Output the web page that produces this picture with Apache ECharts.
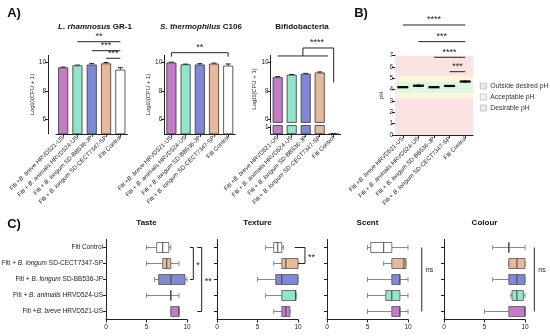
<!DOCTYPE html>
<html><head><meta charset="utf-8">
<script src="https://cdn.jsdelivr.net/npm/echarts@6/dist/echarts.min.js"></script>
<style>html,body{margin:0;padding:0;background:#fff}#c{width:550px;height:336px}</style>
</head><body><div id="c"></div>
<script>
// ---------- data ----------
const strains = ["Fiti +B. breve HRVD521-US", "Fiti + B. animalis HRVD524-US", "Fiti + B. longum SD-BB536-JP", "Fiti + B. longum SD-CECT7347-SP", "Fiti Control"];
const rhamnosus = [9.66, 9.80, 9.86, 9.94, 9.50];
const rhamnosusErr = [0.02, 0.02, 0.08, 0.06, 0.14];
const thermophilus = [10.0, 9.87, 9.86, 9.92, 9.78];
const thermophilusErr = [0.03, 0.02, 0.06, 0.04, 0.12];
const bifido = [8.97, 9.14, 9.21, 9.30, 0.0];
const bifidoErr = [0.04, 0.02, 0.03, 0.04, 0.05];
const ph = [4.22, 4.35, 4.22, 4.33, 4.72];
const phErr = [0.03, 0.05, 0.03, 0.04, 0.04];
const zoneNames = ["Outside desired pH", "Acceptable pH", "Desirable pH"];
const zoneLow = [0, 3.25, 3.75];
const zoneHigh = [7, 5.2, 4.7];
const logTicks = [6, 8, 10];
const lowTicks = [0, 1];
// box plots: [min, q1, median, q3, max], same order as strains
const taste = [[8, 8, 9, 9, 9], [5, 8, 8, 8, 9], [6, 6.5, 8, 9.75, 10], [5, 7, 7.5, 8, 9], [5, 6.25, 7, 7.75, 8]];
const texture = [[7, 8, 8.5, 9, 9], [6, 8, 9.7, 9.75, 9.75], [5, 7.25, 8, 10, 10], [7, 8, 8.5, 10, 10], [6, 7, 7.5, 8, 8.2]];
const scent = [[5, 8, 9, 9, 10], [5, 7.25, 8, 9, 10], [5, 8, 9, 9, 10], [7, 8, 9.5, 9.75, 9.75], [5, 5.4, 7, 8, 10]];
const colour = [[5, 8, 10, 10, 10], [8.25, 8.4, 9, 9.8, 10], [6, 8, 9, 10, 10], [8, 8, 9, 10, 10], [6, 8, 8, 8, 10]];
// significance annotations: polyline points [category, value] (or [value, category] for C), label, label anchor
const sigA1 = [
  {pts: [[1, 11.46], [4, 11.46]], text: '**', at: [2.5, 11.46]},
  {pts: [[2, 10.83], [4, 10.83]], text: '***', at: [3, 10.83]},
  {pts: [[3, 10.3], [4, 10.3]], text: '***', at: [3.5, 10.3]}
];
const sigA2 = [
  {pts: [[0, 10.41], [0, 10.69], [4, 10.69], [4, 10.41]], text: '**', at: [2, 10.69]}
];
const sigA3 = [
  {pts: [[0, 10.46], [3.6, 10.46]], text: '', at: [0, 0]},
  {pts: [[1.8, 10.46], [1.8, 11.02], [4, 11.02], [4, 8.6]], text: '****', at: [2.8, 11.02]}
];
const sigB = [
  {pts: [[0, 9.71], [4, 9.71]], text: '****', at: [2, 9.71]},
  {pts: [[1, 8.24], [4, 8.24]], text: '***', at: [2.5, 8.24]},
  {pts: [[2, 6.86], [4, 6.86]], text: '****', at: [3, 6.86]},
  {pts: [[3, 5.59], [4, 5.59]], text: '***', at: [3.5, 5.59]}
];
const sigTaste = [
  {pts: [[10.37, 4], [10.78, 4], [10.78, 2], [10.37, 2]], text: '*', at: [10.78, 3]},
  {pts: [[11.27, 4], [11.81, 4], [11.81, 0], [11.27, 0]], text: '**', at: [11.81, 2]}
];
const sigTexture = [
  {pts: [[9.6, 4], [10.86, 4], [10.86, 3], [10.0, 3]], text: '**', at: [10.86, 3.5]}
];
const sigScent = [{pts: [[11.7, 4], [11.7, 0]], text: 'ns', at: [11.7, 2.6]}];
const sigColour = [{pts: [[11.15, 4], [11.15, 0]], text: 'ns', at: [11.15, 2.6]}];

// ---------- style ----------
const FONT = '"Liberation Sans", Arial, Helvetica, sans-serif';
const INK = '#222';
const colors = ['#c47cc8', '#8fe6c9', '#7f87d7', '#e7b99a', '#ffffff'];
const zoneColors = ['#fce3e3', '#fbf7d8', '#def5e4'];

function fmtStrain(s) {
  const m = s.match(/^(.*?)(B\. [a-z]+)(.*)$/);
  return m ? m[1] + '{i|' + m[2] + '}' + m[3] : s;
}
const lineStyle = {color: INK, width: 1};

function catXAxis(gi, show) {
  return {
    type: 'category', gridIndex: gi, data: strains, show: true,
    axisLine: {show: show, lineStyle: lineStyle},
    axisTick: {show: show, alignWithLabel: true, length: 3, lineStyle: lineStyle},
    axisLabel: {show: show, rotate: 45, interval: 0, fontSize: 6, color: INK, fontFamily: FONT, margin: 3,
      formatter: fmtStrain, rich: {i: {fontStyle: 'italic', fontSize: 6, color: INK, fontFamily: FONT}}},
    splitLine: {show: false}
  };
}
function valYAxis(gi, min, max, ticks, name, gap, extra) {
  return Object.assign({
    type: 'value', gridIndex: gi, min: min, max: max,
    axisLine: {show: true, lineStyle: lineStyle},
    axisTick: {show: true, length: 3, customValues: ticks, lineStyle: lineStyle},
    axisLabel: {show: true, customValues: ticks, fontSize: 6.5, color: INK, fontFamily: FONT, margin: 2},
    splitLine: {show: false},
    name: name, nameLocation: 'middle', nameGap: gap,
    nameTextStyle: {fontSize: 6, color: INK, fontFamily: FONT,
      rich: {s: {fontSize: 4.5, verticalAlign: 'bottom', color: INK, fontFamily: FONT}}}
  }, extra || {});
}
const LOGNAME = 'Log{s|10}(CFU + 1)';

const grids = [
  {left: 56, top: 55.4, width: 71.5, height: 78.4},
  {left: 164.3, top: 55.4, width: 71, height: 78.4},
  {left: 270.7, top: 55.4, width: 70, height: 67},
  {left: 270.7, top: 125.5, width: 70, height: 8.5},
  {left: 395, top: 55.7, width: 78, height: 79.3},
  {left: 106, top: 239.5, width: 81, height: 80},
  {left: 217, top: 239.5, width: 81, height: 80},
  {left: 327, top: 239.5, width: 81, height: 80},
  {left: 444, top: 239.5, width: 81, height: 80}
].map(g => Object.assign({outerBoundsMode: 'none', containLabel: false}, g));

const xAxes = [catXAxis(0, true), catXAxis(1, true), catXAxis(2, false), catXAxis(3, true), catXAxis(4, true)];
const yAxes = [
  valYAxis(0, 5, 10.5, logTicks, LOGNAME, 11, {offset: 8}),
  valYAxis(1, 5, 10.5, logTicks, LOGNAME, 11),
  valYAxis(2, 5.8, 10.5, logTicks, LOGNAME, 10),
  valYAxis(3, 0, 1.3, lowTicks, '', 10),
  valYAxis(4, 0, 7, null, 'pH', 10.5, {interval: 1,
    axisTick: {show: true, length: 3, lineStyle: lineStyle},
    axisLabel: {show: true, fontSize: 6.5, color: INK, fontFamily: FONT, margin: 2}})
];
for (let k = 0; k < 4; k++) {
  xAxes.push({type: 'value', gridIndex: 5 + k, min: 0, max: 10, interval: 5,
    axisLine: {show: true, lineStyle: lineStyle},
    axisTick: {show: true, length: 3, lineStyle: lineStyle},
    axisLabel: {fontSize: 6.5, color: INK, fontFamily: FONT, margin: 4},
    splitLine: {show: false}});
  yAxes.push({type: 'category', gridIndex: 5 + k, data: strains,
    axisLine: {show: true, lineStyle: lineStyle},
    axisTick: {show: true, alignWithLabel: true, length: 3, lineStyle: lineStyle},
    axisLabel: {show: k === 0, interval: 0, fontSize: 6.5, color: INK, fontFamily: FONT, margin: 3,
      formatter: fmtStrain, rich: {i: {fontStyle: 'italic', fontSize: 6.5, color: INK, fontFamily: FONT}}},
    splitLine: {show: false}});
}

// ---------- renderers ----------
function errRender(params, api) {
  const i = api.value(0), v = api.value(1), e = api.value(2);
  const p0 = api.coord([i, v]), p1 = api.coord([i, v + e]);
  const w = 2.5;
  return {type: 'group', children: [
    {type: 'line', shape: {x1: p0[0], y1: p0[1], x2: p1[0], y2: p1[1]}, style: {stroke: INK, lineWidth: 1}},
    {type: 'line', shape: {x1: p1[0] - w, y1: p1[1], x2: p1[0] + w, y2: p1[1]}, style: {stroke: INK, lineWidth: 1}}
  ]};
}
function meanRender(params, api) {
  const i = api.value(0), v = api.value(1), e = api.value(2);
  const p = api.coord([i, v]), pl = api.coord([i, v - e]), ph_ = api.coord([i, v + e]);
  const w = 5.5, c = 2;
  return {type: 'group', children: [
    {type: 'line', shape: {x1: p[0], y1: pl[1], x2: p[0], y2: ph_[1]}, style: {stroke: '#000', lineWidth: 1}},
    {type: 'line', shape: {x1: p[0] - c, y1: ph_[1], x2: p[0] + c, y2: ph_[1]}, style: {stroke: '#000', lineWidth: 1}},
    {type: 'line', shape: {x1: p[0] - c, y1: pl[1], x2: p[0] + c, y2: pl[1]}, style: {stroke: '#000', lineWidth: 1}},
    {type: 'line', shape: {x1: p[0] - w, y1: p[1], x2: p[0] + w, y2: p[1]}, style: {stroke: '#000', lineWidth: 2.2}}
  ]};
}
function boxRender(params, api) {
  const c = api.value(0);
  const pts = [1, 2, 3, 4, 5].map(k => api.coord([api.value(k), c]));
  const y = pts[0][1], h = 10, cap = 2.5;
  const wl = {stroke: '#8a8a8a', lineWidth: 1};
  return {type: 'group', children: [
    {type: 'line', shape: {x1: pts[0][0], y1: y, x2: pts[1][0], y2: y}, style: wl},
    {type: 'line', shape: {x1: pts[3][0], y1: y, x2: pts[4][0], y2: y}, style: wl},
    {type: 'line', shape: {x1: pts[0][0], y1: y - cap, x2: pts[0][0], y2: y + cap}, style: wl},
    {type: 'line', shape: {x1: pts[4][0], y1: y - cap, x2: pts[4][0], y2: y + cap}, style: wl},
    {type: 'rect', shape: {x: pts[1][0], y: y - h / 2, width: pts[3][0] - pts[1][0], height: h},
      style: {fill: colors[c], stroke: '#555', lineWidth: 0.8}},
    {type: 'line', shape: {x1: pts[2][0], y1: y - h / 2, x2: pts[2][0], y2: y + h / 2}, style: {stroke: '#444', lineWidth: 1}}
  ]};
}
function toPx(api, pt, catOnX) {
  const c = catOnX ? pt[0] : pt[1], v = catOnX ? pt[1] : pt[0];
  const i0 = Math.floor(c), f = c - i0;
  const a = catOnX ? api.coord([i0, v]) : api.coord([v, i0]);
  if (f === 0) return a;
  const b = catOnX ? api.coord([i0 + 1, v]) : api.coord([v, i0 + 1]);
  return [a[0] + (b[0] - a[0]) * f, a[1] + (b[1] - a[1]) * f];
}
function annRender(list, catOnX) {
  return function (params, api) {
    const a = list[params.dataIndex];
    const pts = a.pts.map(p => toPx(api, p, catOnX));
    const children = [{type: 'polyline', shape: {points: pts}, style: {stroke: INK, fill: null, lineWidth: 1}}];
    if (a.text) {
      const t = toPx(api, a.at, catOnX);
      const isNs = a.text === 'ns';
      children.push({type: 'text', x: catOnX ? t[0] : t[0] + (isNs ? 4 : 3), y: catOnX ? t[1] - 0.5 : t[1] + (isNs ? 0 : 2),
        style: {text: a.text, fill: INK, fontFamily: FONT, fontSize: isNs ? 7 : 9,
          align: catOnX ? 'center' : 'left', verticalAlign: catOnX ? 'bottom' : 'middle'}});
    }
    return {type: 'group', children: children};
  };
}

// ---------- series ----------
const series = [];
function barSeries(xi, yi, vals) {
  return {type: 'bar', xAxisIndex: xi, yAxisIndex: yi, barWidth: 10, z: 2,
    itemStyle: {borderColor: '#333', borderWidth: 0.8},
    data: vals.map((v, i) => ({value: v, itemStyle: {color: colors[i]}}))};
}
function errSeries(xi, yi, vals, errs, idxs) {
  return {type: 'custom', xAxisIndex: xi, yAxisIndex: yi, z: 3, renderItem: errRender,
    encode: {x: 0, y: 1}, data: idxs.map(i => [i, vals[i], errs[i]])};
}
function annSeries(xi, yi, list, catOnX) {
  return {type: 'custom', xAxisIndex: xi, yAxisIndex: yi, z: 4, clip: false, silent: true,
    renderItem: annRender(list, catOnX), data: list.map((a, k) => [0, 0, k]), encode: {x: [], y: []}};
}
const all = [0, 1, 2, 3, 4];
series.push(barSeries(0, 0, rhamnosus), errSeries(0, 0, rhamnosus, rhamnosusErr, all), annSeries(0, 0, sigA1, true));
series.push(barSeries(1, 1, thermophilus), errSeries(1, 1, thermophilus, thermophilusErr, all), annSeries(1, 1, sigA2, true));
series.push(barSeries(2, 2, bifido), errSeries(2, 2, bifido, bifidoErr, [0, 1, 2, 3]), annSeries(2, 2, sigA3, true));
series.push(barSeries(3, 3, bifido), errSeries(3, 3, bifido, bifidoErr, [4]));
zoneNames.forEach((n, k) => {
  series.push({type: 'line', name: n, xAxisIndex: 4, yAxisIndex: 4, data: [], z: 1,
    itemStyle: {color: zoneColors[k]},
    markArea: {silent: true, itemStyle: {color: zoneColors[k], opacity: 1}, data: [[{yAxis: zoneLow[k]}, {yAxis: zoneHigh[k]}]]}});
});
series.push({type: 'custom', xAxisIndex: 4, yAxisIndex: 4, z: 3, renderItem: meanRender, encode: {x: 0, y: 1},
  data: ph.map((v, i) => [i, v, phErr[i]])});
series.push(annSeries(4, 4, sigB, true));
[taste, texture, scent, colour].forEach((d, k) => {
  series.push({type: 'custom', xAxisIndex: 5 + k, yAxisIndex: 5 + k, z: 3, renderItem: boxRender,
    encode: {x: [1, 2, 3, 4, 5], y: 0}, data: d.map((b, i) => [i].concat(b))});
});
[sigTaste, sigTexture, sigScent, sigColour].forEach((s, k) => series.push(annSeries(5 + k, 5 + k, s, false)));

// ---------- titles ----------
function txt(x, y, text, size, rich, weight) {
  return {type: 'text', x: x, y: y, silent: true, style: {text: text, fill: '#111', fontFamily: FONT, fontSize: size,
    fontWeight: weight || 'bold', align: 'center', verticalAlign: 'middle', rich: rich || {}}};
}
const titleRich = {i: {fontStyle: 'italic', fontWeight: 'bold', fontSize: 8, fontFamily: FONT, fill: '#111'},
  b: {fontWeight: 'bold', fontSize: 8, fontFamily: FONT, fill: '#111'}};
const graphics = [
  txt(14, 13, 'A)', 13), txt(361, 13, 'B)', 13), txt(14, 224, 'C)', 13),
  txt(95, 27, '{i|L. rhamnosus}{b| GR-1}', 8, titleRich),
  txt(201, 27, '{i|S. thermophilus}{b| C106}', 8, titleRich),
  txt(302, 27, 'Bifidobacteria', 8),
  txt(146.5, 223, 'Taste', 8), txt(257.5, 223, 'Texture', 8), txt(367.5, 223, 'Scent', 8), txt(484.5, 223, 'Colour', 8)
];

const chart = echarts.init(document.getElementById('c'), null, {width: 550, height: 336});
chart.setOption({
  animation: false,
  backgroundColor: '#fff',
  textStyle: {fontFamily: FONT},
  grid: grids, xAxis: xAxes, yAxis: yAxes, series: series,
  legend: {data: zoneNames, orient: 'vertical', left: 480, top: 81.5, padding: 0, icon: 'rect', itemWidth: 6, itemHeight: 6,
    itemGap: 2, itemStyle: {borderColor: '#aaa', borderWidth: 0.6},
    textStyle: {fontSize: 6.8, color: '#333', fontFamily: FONT, lineHeight: 9, padding: [0, 0, 0, -1]}, selectedMode: false},
  graphic: graphics
});
</script></body></html>
